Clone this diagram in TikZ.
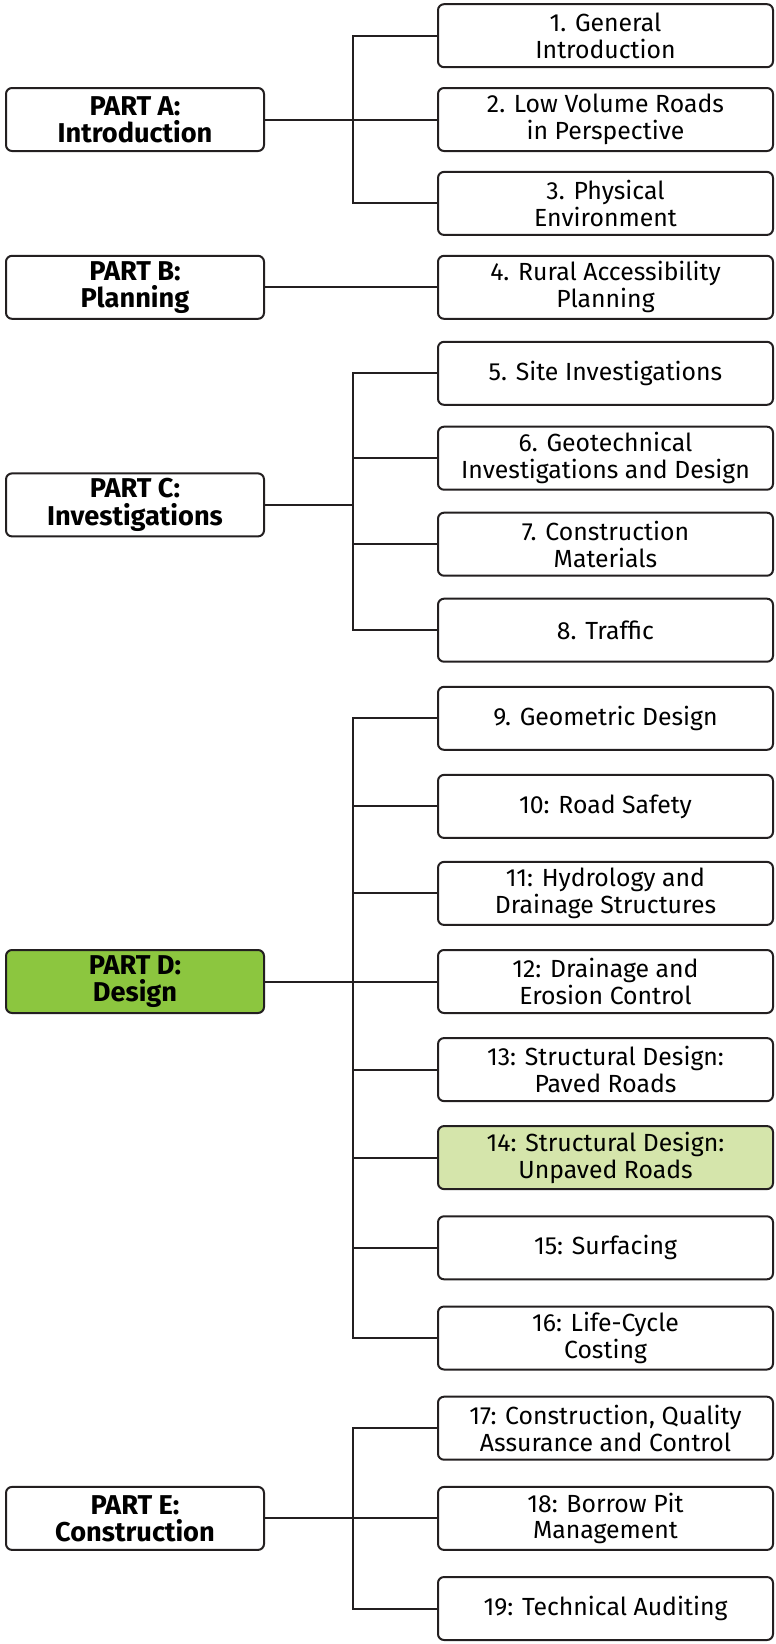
\documentclass[tikz,border=0pt]{standalone}
\usepackage{fontspec}
\setmainfont{Fira Sans}
\usetikzlibrary{positioning}
\definecolor{LineDark}{HTML}{231F20}
\definecolor{PartGreen}{HTML}{8CC63F}
\definecolor{PaleGreen}{HTML}{D5E5AB}

\begin{document}
\begin{tikzpicture}[x=0.5pt,y=-0.5pt,
  part/.style={draw=LineDark, line width=1pt, rounded corners=3pt, fill=white, minimum width=129pt, minimum height=31.5pt, align=center, inner sep=0pt, font=\fontsize{13.6}{13.6}\selectfont\bfseries},
  chap/.style={draw=LineDark, line width=1pt, rounded corners=3pt, fill=white, minimum width=167.5pt, minimum height=31.5pt, align=center, inner sep=0pt, font=\fontsize{12.4}{13.4}\selectfont},
  link/.style={line width=1pt, LineDark}
]
\useasboundingbox (0,0) rectangle (776,1644);
\coordinate (trunk) at (353,0);

% parts
\node[part] (pA) at (135,119.5) {PART A:\\Introduction};
\node[part] (pB) at (135,287.3) {PART B:\\Planning};
\node[part] (pC) at (135,504.9) {PART C:\\Investigations};
\node[part, fill=PartGreen] (pD) at (135,981.5) {PART D:\\Design};
\node[part] (pE) at (135,1518.4) {PART E:\\Construction};

% chapters
\node[chap] (c1) at (605.5,35.7) {1. General\\Introduction};
\node[chap] (c2) at (605.5,119.5) {2. Low Volume Roads\\in Perspective};
\node[chap] (c3) at (605.5,203.4) {3. Physical\\Environment};
\node[chap] (c4) at (605.5,287.3) {4. Rural Accessibility\\Planning};
\node[chap] (c5) at (605.5,373.3) {5. Site Investigations};
\node[chap] (c6) at (605.5,458.2) {6. Geotechnical\\Investigations and Design};
\node[chap] (c7) at (605.5,544.2) {7. Construction\\Materials};
\node[chap] (c8) at (605.5,630.2) {8. Traffic};
\node[chap] (c9) at (605.5,718.3) {9. Geometric Design};
\node[chap] (c10) at (605.5,806.4) {10: Road Safety};
\node[chap] (c11) at (605.5,893.4) {11: Hydrology and\\Drainage Structures};
\node[chap] (c12) at (605.5,981.5) {12: Drainage and\\Erosion Control};
\node[chap] (c13) at (605.5,1069.6) {13: Structural Design:\\Paved Roads};
\node[chap, fill=PaleGreen] (c14) at (605.5,1157.6) {14: Structural Design:\\Unpaved Roads};
\node[chap] (c15) at (605.5,1247.8) {15: Surfacing};
\node[chap] (c16) at (605.5,1338.0) {16: Life-Cycle\\Costing};
\node[chap] (c17) at (605.5,1428.2) {17: Construction, Quality\\Assurance and Control};
\node[chap] (c18) at (605.5,1518.4) {18: Borrow Pit\\Management};
\node[chap] (c19) at (605.5,1608.5) {19: Technical Auditing};

% part A
\draw[link] (pA.east) -- (c2.west);
\draw[link] (c1.west) -- (c1.west -| trunk) -- (c3.west -| trunk) -- (c3.west);
% part B
\draw[link] (pB.east) -- (c4.west);
% part C
\draw[link] (pC.east) -- (pC.east -| trunk);
\draw[link] (c5.west) -- (c5.west -| trunk) -- (c8.west -| trunk) -- (c8.west);
\foreach \n in {6,7}
  \draw[link] (c\n.west) -- (c\n.west -| trunk);
% part D
\draw[link] (pD.east) -- (c12.west);
\draw[link] (c9.west) -- (c9.west -| trunk) -- (c16.west -| trunk) -- (c16.west);
\foreach \n in {10,11,13,14,15}
  \draw[link] (c\n.west) -- (c\n.west -| trunk);
% part E
\draw[link] (pE.east) -- (c18.west);
\draw[link] (c17.west) -- (c17.west -| trunk) -- (c19.west -| trunk) -- (c19.west);
\end{tikzpicture}
\end{document}
